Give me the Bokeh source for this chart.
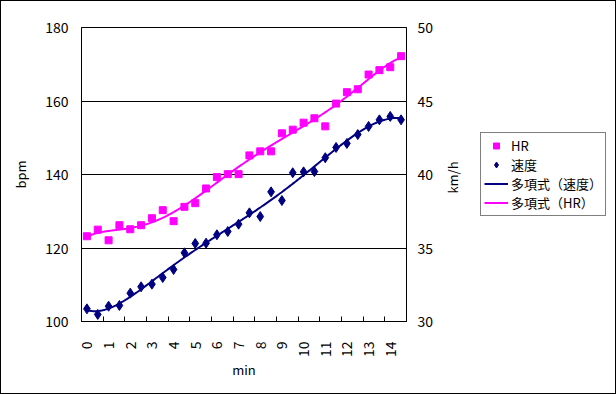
import numpy as np
from bokeh.plotting import figure
from bokeh.layouts import row
from bokeh.models import (Range1d, LinearAxis, FixedTicker, Legend, LegendItem,
                          Label, ColumnDataSource)
from bokeh.embed import file_html
from bokeh.resources import INLINE

# ---- data ----
minutes = [0, 0.5, 1, 1.5, 2, 2.5, 3, 3.5, 4, 4.5, 5, 5.5, 6, 6.5, 7, 7.5,
           8, 8.5, 9, 9.5, 10, 10.5, 11, 11.5, 12, 12.5, 13, 13.5, 14, 14.5]
hr = [123.2, 125.0, 122.1, 126.2, 125.1, 126.2, 128.1, 130.3, 127.3, 131.2,
      132.2, 136.2, 139.3, 140.1, 140.1, 145.2, 146.3, 146.3, 151.2, 152.2,
      154.1, 155.3, 153.1, 159.3, 162.4, 163.2, 167.2, 168.4, 169.2, 172.2]
speed = [30.86, 30.48, 31.04, 31.09, 31.93, 32.36, 32.54, 32.99, 33.54, 34.67,
         35.31, 35.33, 35.90, 36.12, 36.62, 37.39, 37.14, 38.82, 38.23, 40.12,
         40.18, 40.20, 41.14, 41.84, 42.11, 42.72, 43.27, 43.72, 43.95, 43.72]
x_labels = [str(i) for i in range(15)]
bpm_ticks = [100, 120, 140, 160, 180]
kmh_ticks = [30, 35, 40, 45, 50]
legend_labels = ["HR", "速度", "多項式（速度）", "多項式（HR）"]

# polynomial trendlines (order 6, as Excel "多項式")
xs = np.linspace(minutes[0], minutes[-1], 300)
hr_fit = np.polynomial.Polynomial.fit(minutes, hr, 6)(xs)
sp_fit = np.polynomial.Polynomial.fit(minutes, speed, 6)(xs)

FONT = "Noto Sans CJK JP"
NAVY = "#000080"
MAG = "#FF00FF"

src = ColumnDataSource(dict(x=minutes, hr=hr, speed=speed))
fit_src = ColumnDataSource(dict(x=xs, hr=hr_fit, speed=sp_fit))

# ---------------- main chart ----------------
p = figure(frame_width=325, frame_height=294,
           min_border_left=80, min_border_top=26,
           min_border_right=33, min_border_bottom=72,
           x_range=Range1d(-0.25, 14.75), y_range=Range1d(100, 180),
           output_backend="svg", toolbar_location=None,
           background_fill_color="white", border_fill_color="white")
p.extra_y_ranges = {"speed": Range1d(30, 50)}

p.outline_line_color = "black"
p.outline_line_width = 1
p.outline_line_alpha = 1
p.xgrid.visible = False
p.ygrid.grid_line_color = "black"
p.ygrid.grid_line_alpha = 1
p.ygrid.grid_line_width = 1

# x axis
xa = p.xaxis[0]
xa.ticker = FixedTicker(ticks=list(range(15)),
                        minor_ticks=[i + 0.75 for i in range(14)])
xa.major_label_overrides = {i: s for i, s in enumerate(x_labels)}
xa.major_label_orientation = np.pi / 2
xa.major_tick_in = 0
xa.major_tick_out = 0
xa.minor_tick_in = 5
xa.minor_tick_out = 0
xa.minor_tick_line_color = "black"
xa.axis_line_color = "black"
xa.axis_label = "min"
xa.major_label_standoff = 20
xa.axis_label_standoff = 0

# left axis
ya = p.yaxis[0]
ya.ticker = FixedTicker(ticks=bpm_ticks)
ya.major_tick_in = 0
ya.major_tick_out = 0
ya.minor_tick_line_color = None
ya.axis_line_color = "black"
ya.axis_label = "bpm"
ya.major_label_standoff = 13
ya.axis_label_standoff = 12

# right axis
ra = LinearAxis(y_range_name="speed", ticker=FixedTicker(ticks=kmh_ticks))
ra.major_tick_in = 0
ra.major_tick_out = 0
ra.minor_tick_line_color = None
ra.axis_line_color = "black"
ra.major_label_standoff = 11
p.add_layout(ra, "right")

for ax in (xa, ya, ra):
    ax.major_label_text_font = FONT
    ax.major_label_text_font_size = "14px"
    ax.major_label_text_color = "black"
    ax.axis_label_text_font = FONT
    ax.axis_label_text_font_size = "13px"
    ax.axis_label_text_font_style = "normal"
    ax.axis_label_text_color = "black"

p.scatter("x", "hr", source=src, marker="square", size=7,
          fill_color=MAG, line_color=MAG)
p.scatter("x", "speed", source=src, marker="diamond", size=10,
          fill_color=NAVY, line_color=NAVY, y_range_name="speed")
p.line("x", "speed", source=fit_src, line_color=NAVY, line_width=2,
       y_range_name="speed")
p.line("x", "hr", source=fit_src, line_color=MAG, line_width=2)

# ---------------- side panel: right-axis title + legend ----------------
q = figure(width=176, height=392, min_border=0,
           x_range=Range1d(0, 176), y_range=Range1d(0, 392),
           x_axis_location=None, y_axis_location=None,
           output_backend="svg", toolbar_location=None,
           background_fill_color="white", border_fill_color="white")
q.outline_line_color = None
q.grid.visible = False
# legend proxies: same series, mapped onto a range that lies outside this panel
q.extra_x_ranges = {"off": Range1d(1000, 1001)}
q.extra_y_ranges = {"hr": Range1d(100, 180), "speed": Range1d(30, 50)}

q.add_layout(Label(x=13, y=144, x_units="screen", y_units="screen",
                   text="km/h", angle=90, angle_units="deg",
                   text_align="center", text_baseline="middle",
                   text_font=FONT, text_font_size="13px", text_color="black"))

l_hr = q.scatter("x", "hr", source=src, marker="square",
                 fill_color=MAG, line_color=MAG,
                 x_range_name="off", y_range_name="hr")
l_sp = q.scatter("x", "speed", source=src, marker="diamond",
                 fill_color=NAVY, line_color=NAVY,
                 x_range_name="off", y_range_name="speed")
l_spfit = q.line("x", "speed", source=fit_src, line_color=NAVY, line_width=2,
                 x_range_name="off", y_range_name="speed")
l_hrfit = q.line("x", "hr", source=fit_src, line_color=MAG, line_width=2,
                 x_range_name="off", y_range_name="hr")

legend = Legend(items=[LegendItem(label=t, renderers=[r]) for t, r in
                       zip(legend_labels, [l_hr, l_sp, l_spfit, l_hrfit])],
                location=(41, 105), margin=0, padding=3, spacing=0,
                label_height=19, glyph_height=15, glyph_width=24,
                label_standoff=3,
                label_text_font=FONT, label_text_font_size="13px",
                label_text_color="black",
                border_line_color="black", border_line_width=1,
                background_fill_color="white", background_fill_alpha=1)
q.add_layout(legend, "center")

layout = row(p, q, styles={"margin": "1px", "outline": "1px solid black"})
open("out.html", "w").write(file_html(layout, INLINE))
